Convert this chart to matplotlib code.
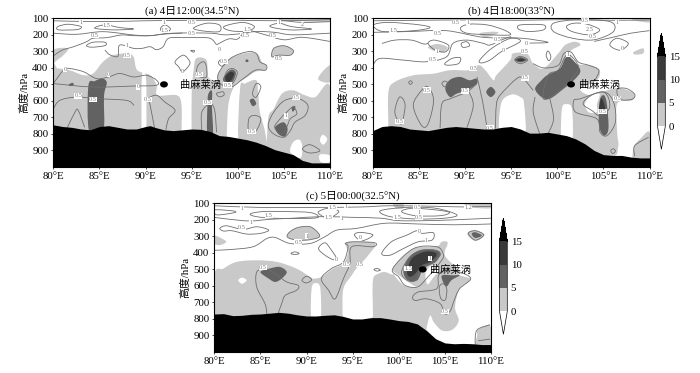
import matplotlib
matplotlib.use('Agg')
import matplotlib.pyplot as plt
from matplotlib.path import Path
from matplotlib.patches import PathPatch, Ellipse
from matplotlib.colors import ListedColormap, BoundaryNorm
from matplotlib.cm import ScalarMappable

plt.rcParams['font.family'] = ['Liberation Serif', 'Noto Sans CJK SC']

xticks = [80, 85, 90, 95, 100, 105, 110]
yticks = [100, 200, 300, 400, 500, 600, 700, 800, 900]
cbar_levels = [0, 5, 10, 15]

# panel a
a_terrain_lon = [80, 81, 82, 83, 84, 85, 86, 87, 88, 89, 90, 90.5, 91, 92, 93, 94, 95, 96, 97, 98, 99, 100, 101, 102, 103, 104, 105, 106, 107, 108, 109, 110]
a_terrain_p = [745, 755, 760, 770, 775, 755, 750, 760, 770, 770, 755, 750, 760, 775, 780, 775, 770, 772, 785, 810, 815, 825, 835, 850, 870, 895, 910, 925, 960, 975, 975, 975]
a_grey = [
    [(80, 292), (81.6, 282), (81.1, 323), (80.2, 363), (80, 380)],
    [(80, 415), (80.5, 404), (81.8, 415), (83.25, 444), (84.3, 435), (85.4, 363), (86.5, 323), (88, 313), (88.7, 333), (89.1, 414), (90.5, 444), (91.2, 505), (91.3, 566), (93.4, 566), (93.9, 627), (93.9, 790), (93.9, 900), (80, 900)],
    [(95, 900), (95, 790), (95, 560), (95.2, 420), (95.5, 343), (96.6, 353), (96.8, 455), (97.7, 480), (97.9, 435), (99.2, 343), (101.2, 307), (102.2, 319), (102.6, 363), (103.1, 384), (102.96, 414), (101.9, 424), (100.8, 465), (99.7, 505), (99, 617), (98.8, 820), (98.8, 900)],
    [(100.25, 900), (100.25, 526), (100.8, 495), (102, 475), (102.2, 546), (102.4, 668), (102.96, 790), (103, 900)],
    [(103.2, 960), (103.3, 708), (103.9, 648), (104.8, 556), (106, 536), (107.3, 566), (108.4, 577), (110, 516), (110, 985), (104, 985)],
    [(108.7, 465), (110, 385), (110, 485)],
    [(103.7, 333), (103.9, 282), (105, 266), (106, 293), (105.7, 323), (104.4, 323)],
    [(104.2, 100), (110, 100), (110, 122), (107, 118), (105, 110)],
]
a_white = [
    [(89.6, 455), (90.05, 455), (90.05, 800), (89.6, 800)],
    [(105.7, 910), (106, 850), (106.7, 835), (107, 880), (106.8, 945)],
    [(108.9, 925), (110, 930), (110, 970), (109, 970)],
    [(108.9, 840), (109.2, 805), (109.7, 830), (109.3, 865)],
]
a_mid = [
    [(83.9, 790), (83.8, 510), (84.5, 480), (85.3, 465), (85.8, 490), (85.5, 570), (85.4, 790)],
    [(96.7, 800), (96.7, 640), (96.8, 560), (97.2, 540), (97.2, 640), (97.3, 800)],
    [(98.4, 470), (98.9, 425), (99.4, 410), (99.8, 430), (99.5, 480), (98.9, 500)],
    [(104.05, 759), (104.95, 729), (105.4, 769), (105.1, 815), (104.4, 800)],
    [(101.3, 597), (101.7, 587), (102, 617), (101.6, 631)],
    [(81.7, 500), (82.1, 490), (82.2, 505), (81.8, 510)],
    [(100.85, 352), (101.1, 350), (101.15, 362), (100.9, 365)],
    [(105.85, 640), (106.2, 630), (106.2, 650), (105.95, 665)],
]
a_dark = [[(98.65, 455), (99.2, 425), (99.6, 435), (99.35, 470), (98.9, 490)]]
a_closed = [
    [(93.2, 363), (94.1, 323), (94.8, 363), (94.6, 394), (94, 424), (93.6, 394)],
    [(95.5, 435), (95.7, 384), (96.3, 363), (96.6, 394), (96.6, 455), (95.9, 455)],
    [(94.9, 295), (95.3, 295), (95.2, 305)],
    [(98.2, 350), (98.8, 360), (98.3, 390), (97.9, 370)],
    [(101.6, 556), (102, 495), (102.5, 515), (102, 577)],
    [(101.2, 708), (101.8, 688), (102.5, 708), (102, 780), (101.2, 790)],
    [(103.3, 749), (103.9, 668), (105.1, 597), (106.6, 587), (107.6, 627), (107.3, 688), (106.2, 729), (105.7, 780), (105, 820), (103.9, 800)],
    [(104, 759), (104.6, 708), (105.3, 668), (106, 637), (106.4, 678), (105.7, 708), (105.3, 759), (104.8, 800)],
    [(103.7, 333), (103.9, 282), (105, 266), (106, 293), (105.7, 323), (104.4, 323)],
    [(107, 891), (107.8, 865), (108.9, 901), (107.8, 915)],
    [(98.1, 495), (97.9, 435), (99.2, 343), (101, 303), (102, 313), (102.4, 363), (103.1, 384), (103, 414), (101.9, 414), (100.6, 465), (99.3, 515)],
    [(98.5, 470), (98.9, 415), (99.5, 405), (99.95, 430), (99.5, 490), (98.9, 505)],
    [(97.7, 555), (98.4, 545), (98.5, 565), (98, 575)],
    [(80.5, 150), (81.6, 136), (83, 150), (82.6, 168), (80.6, 170)],
    [(84.5, 160), (85.6, 140), (87.2, 156), (88.7, 165), (86.5, 170)],
    [(91.6, 165), (92.1, 140), (92.7, 165), (92.1, 190)],
    [(95.2, 160), (96.6, 130), (98, 140), (98, 180), (96.3, 177)],
    [(83.6, 265), (84.3, 245), (85.6, 245), (85.6, 265), (84.2, 275)],
    [(98.5, 150), (100.5, 125), (101.8, 150), (101, 178), (99.2, 175)],
    [(104.5, 130), (105.8, 150), (108, 165), (105.5, 170), (103.5, 150)],
]
a_lines = [
    [(80, 327), (81, 292), (82.2, 272), (83.6, 242), (84.3, 221), (85.8, 217), (87.4, 201), (88.7, 205), (90.5, 205), (92, 195), (94, 190)],
    [(85.6, 292), (86.1, 320), (87, 330), (87.2, 262), (88.7, 282), (89.6, 282), (90.5, 272), (91.2, 290), (91.9, 272), (92.5, 221), (94.1, 217), (95.5, 217), (97, 221), (97.7, 260)],
    [(80, 495), (84.3, 516), (88.7, 510), (91.2, 505), (91.2, 475), (90.1, 445), (88.7, 455), (87.2, 434), (86, 455), (84.7, 465), (83.3, 424), (81.8, 404), (81.1, 414), (80, 495)],
    [(80, 648), (80.7, 597), (82.5, 577), (85, 587), (87.95, 597), (88.75, 627)],
    [(81.45, 770), (82.35, 668), (82.7, 657), (83.4, 760)],
    [(91, 770), (90.5, 627), (90.3, 587), (91.2, 566), (92.1, 607), (93.2, 657), (92.5, 708), (92.2, 775)],
    [(96.1, 775), (96.1, 668), (97, 617), (97.5, 657), (97.7, 790)],
    [(80, 115), (85, 120), (90, 115), (95, 112), (100, 112), (105, 115), (110, 108)],
    [(80, 190), (82.5, 197), (85.4, 181), (88.7, 201), (90.5, 205), (93, 190), (97, 190), (98.5, 200), (100, 195), (102, 180), (104, 185), (106, 200), (110, 190)],
    [(97.7, 260), (99, 225), (100, 225), (101, 175), (103, 200), (105, 230), (107, 215), (110, 240)],
    [(104.5, 110), (107, 125), (110, 120)],
]
a_labels = [(82.7, 570, '0.5'), (84.3, 590, '0.5'), (90.2, 590, '0.5'), (96.7, 610, '0.5'), (88, 325, '0.5'), (98.5, 360, '0.5'), (95.8, 440, '0.5'), (98.9, 505, '0.5'), (101.5, 785, '0.5'), (106.3, 580, '0.5'), (104.4, 345, '0.5'), (84.5, 205, '0.5'), (85.8, 145, '1.5'), (83, 125, '1'), (92, 125, '1'), (95, 128, '0.5'), (92.1, 175, '1.5'), (95, 192, '0.5'), (101, 165, '1.5'), (100.8, 205, '-0.5'), (103.8, 205, '0.5'), (104.5, 125, '1'), (105.2, 690, '1'), (81.3, 410, '0'), (86, 440, '0'), (89.2, 515, '0'), (94, 420, '0'), (98, 290, '0'), (88, 265, '1'), (107, 135, '2')]
a_marker = (92, 500)
a_vortex = (93.7, 505)

# panel b
b_terrain_lon = [80, 81, 82, 83, 84, 85, 86, 87, 88, 89, 90, 91, 92, 93, 94, 95, 96, 97, 98, 99, 100, 101, 102, 103, 104, 105, 106, 107, 108, 109, 110]
b_terrain_p = [780, 755, 750, 755, 770, 775, 780, 770, 760, 755, 760, 765, 770, 770, 760, 755, 770, 795, 795, 790, 800, 810, 830, 860, 900, 925, 930, 930, 940, 945, 945]
b_grey = [
    [(81.7, 900), (81.7, 760), (81.7, 546), (82.4, 485), (84.4, 445), (86.6, 435), (88.4, 414), (90.4, 414), (91.5, 384), (92.2, 414), (93.1, 475), (93.4, 445), (94.9, 353), (95.2, 313), (96.7, 313), (97.4, 374), (98.5, 404), (100.1, 313), (100.85, 262), (101.9, 242), (102.5, 262), (101.4, 303), (102, 374), (103.6, 384), (104.6, 414), (104.3, 475), (102.5, 526), (103.6, 566), (105.4, 536), (106.8, 522), (108.3, 556), (108.1, 597), (106.5, 617), (106.5, 790), (106.6, 881), (105.7, 942), (100, 950), (81.7, 950)],
    [(108.3, 960), (108.3, 880), (109, 830), (110, 790), (110, 960)],
    [(108.3, 303), (109.3, 282), (109.3, 313), (108.4, 319)],
    [(86, 275), (87, 255), (88.1, 275), (87.7, 305), (86.8, 300)],
    [(91.6, 190), (93.1, 181), (93.6, 190), (92.2, 215)],
    [(108, 100), (110, 100), (110, 125), (108.5, 115)],
]
b_white = [
    [(93.9, 830), (93.9, 620), (95, 562), (96, 577), (96.4, 617), (96.4, 830)],
    [(100.5, 850), (100.5, 650), (101, 620), (101.6, 650), (101.6, 850)],
    [(103, 617), (103.7, 566), (104.6, 560), (104.3, 620), (104.3, 668), (103.4, 668)],
]
b_mid = [
    [(87.9, 536), (88, 495), (88.6, 465), (89.5, 455), (90.5, 475), (91.2, 465), (91.3, 495), (90.2, 536), (89.1, 556), (88.4, 577)],
    [(92.3, 546), (92.8, 515), (93.3, 546), (92.8, 577)],
    [(97.6, 526), (98.3, 475), (98.9, 445), (100.3, 404), (100.85, 343), (101.4, 337), (102.5, 414), (101.8, 475), (100.7, 526), (99.2, 587), (98.3, 577)],
    [(104.5, 688), (104.65, 587), (105.1, 567), (105.4, 627), (105.55, 769), (105.1, 810), (104.6, 769)],
    [(95.4, 352), (96, 335), (96.7, 352), (96, 367)],
]
b_dark = [[(95.6, 352), (96.1, 343), (96.5, 352), (96, 360)], [(104.5, 658), (104.8, 583), (105.2, 648), (104.9, 675)]]
b_closed = [
    [(82.4, 668), (82.9, 577), (83.5, 617), (83.3, 708), (83, 739)],
    [(84.4, 627), (85.3, 536), (86, 515), (86.6, 597), (86, 739), (85.3, 749)],
    [(87.5, 495), (87.8, 480), (88.2, 495), (87.8, 515)],
    [(83.9, 489), (84.1, 478), (84.3, 489), (84.1, 500)],
    [(86, 252), (86.7, 232), (88.2, 262), (87.9, 303), (86.8, 293)],
    [(89.6, 252), (90.2, 242), (90.5, 266), (89.8, 276)],
    [(87.8, 374), (88.6, 343), (89.5, 339), (89.3, 374), (88.2, 384)],
    [(91.6, 353), (92.9, 282), (94.9, 222), (96, 240), (94, 300), (92.7, 353), (91.8, 370)],
    [(95.4, 352), (96, 330), (96.8, 352), (96, 375)],
    [(99, 353), (98.8, 323), (99, 298), (99.3, 327), (99.2, 353)],
    [(99, 445), (100.1, 414), (100.85, 333), (101.4, 323), (102.3, 394), (101.6, 465), (100.1, 546), (98.5, 587)],
    [(101.8, 597), (102, 668), (104.3, 709), (104.65, 790), (105.4, 810), (106.3, 729), (106.1, 607), (105, 546), (102.5, 587)],
    [(102.8, 617), (103.7, 566), (105, 546), (105.6, 590), (105.6, 650), (104.6, 690), (103.8, 660)],
    [(106.5, 530), (107.5, 525), (108.4, 560), (108.1, 590), (106.8, 590)],
    [(105.7, 262), (106.45, 221), (107.7, 252), (106.8, 293)],
    [(105.8, 900), (106.1, 890), (106.3, 905), (106, 918)],
    [(80.1, 140), (81.8, 125), (85.1, 140), (86.2, 157), (84.4, 175), (81.1, 180)],
    [(89.5, 160), (90.4, 136), (92.4, 140), (94.2, 170), (94.9, 200), (92.7, 200), (90.2, 190)],
    [(96, 140), (98.5, 140), (98.5, 170), (96.9, 180), (95.8, 165)],
    [(101, 150), (101.8, 130), (103.2, 135), (104.6, 170), (103.5, 200), (101.6, 180)],
    [(99.6, 130), (102, 110), (105.7, 120), (106.1, 180), (104, 230), (101.6, 220), (99.6, 180)],
]
b_lines = [
    [(80, 384), (80.8, 343), (83.3, 353), (85.8, 363), (88, 333), (88.7, 252), (90.2, 232), (92, 252), (92.7, 262), (94, 230), (95, 210)],
    [(81, 252), (82.4, 232), (84.2, 232), (85.5, 255), (86, 252)],
    [(80, 115), (85, 112), (90, 110), (96, 112), (101, 108), (106, 112), (110, 110)],
    [(80, 185), (84, 180), (88, 175), (92, 215), (96, 220), (99, 245), (97, 250)],
    [(104, 240), (106, 215), (108, 190), (110, 175)],
    [(87.3, 765), (87.5, 617), (88.4, 587), (90.2, 546), (91.3, 495)],
    [(90.2, 765), (90.9, 627), (90.4, 540)],
    [(91.3, 455), (91.9, 600), (92.4, 768)],
    [(93.3, 768), (93.4, 627), (93.8, 566), (95.6, 465), (96.3, 465), (97.4, 536)],
    [(97.6, 576), (97.4, 668), (98.1, 800)],
    [(99, 800), (99.6, 709), (99.2, 587)],
    [(108.4, 935), (108.4, 871), (109.9, 820)],
    [(97.4, 374), (98.5, 400), (100.1, 385), (100.7, 315), (101.5, 305), (102.3, 365), (103.4, 384), (104.5, 414), (104.1, 475)],
]
b_labels = [(82.9, 725, '0.5'), (85.9, 535, '0.5'), (90, 540, '0.5'), (90.9, 405, '0.5'), (92.7, 765, '0.5'), (96.5, 460, '0.5'), (96.5, 300, '0.5'), (101.2, 320, '1'), (104.9, 665, '0.5'), (106.5, 585, '0.5'), (82.2, 175, '1.5'), (87, 300, '1'), (86.5, 350, '0.5'), (87, 190, '0.5'), (89, 125, '0.5'), (90.3, 125, '1'), (93.5, 230, '0.5'), (94.2, 295, '0'), (96.6, 255, '0'), (103.5, 170, '2.5'), (103.8, 210, '0.5'), (107, 280, '0'), (106.5, 125, '1'), (103, 115, '0.5')]
b_marker = (101.5, 500)
b_vortex = (102.4, 505)

# panel c
c_terrain_lon = [80, 81, 82, 83, 84, 85, 86, 87, 88, 89, 90, 91, 92, 93, 94, 95, 96, 97, 98, 99, 100, 101, 102, 103, 104, 105, 106, 107, 108, 109, 110]
c_terrain_p = [770, 768, 780, 778, 772, 770, 765, 760, 765, 775, 782, 782, 778, 775, 785, 800, 800, 792, 792, 800, 810, 815, 830, 870, 920, 945, 950, 948, 950, 955, 955]
c_grey = [
    [(80, 298), (80.6, 307), (81.3, 333), (80.6, 353), (80, 343)],
    [(80, 900), (80, 536), (81, 495), (82.4, 455), (84.6, 445), (86.8, 455), (88.9, 495), (90.4, 546), (90.7, 556), (91.6, 546), (92.9, 495), (94, 465), (94.5, 394), (94.2, 343), (95, 333), (97.4, 343), (96.7, 414), (95.4, 495), (94.9, 536), (94, 617), (93.9, 770), (93.9, 900)],
    [(97.2, 900), (97.2, 770), (97.2, 566), (97.8, 526), (98.5, 516), (99.4, 530), (99.5, 480), (101.6, 374), (104.1, 360), (104.6, 335), (105.1, 330), (105.3, 345), (105, 415), (106.3, 495), (106.6, 535), (107.8, 560), (106.6, 617), (106.1, 730), (106.5, 810), (105.8, 865), (104.7, 870), (103.8, 820), (103.4, 780), (103, 860), (103, 900)],
    [(108.4, 960), (108.5, 900), (108.6, 865), (109.9, 840), (110, 960)],
    [(107.4, 285), (108.2, 262), (109.3, 290), (108.3, 328)],
    [(87.9, 302), (88.2, 272), (89.1, 246), (90.4, 242), (91.3, 282), (91.3, 307), (90, 323), (88.6, 319)],
    [(99.4, 100), (100.4, 100), (100.5, 130), (99.7, 130)],
    [(107.2, 100), (110, 100), (110, 130), (108, 125)],
]
c_white = [
    [(90.55, 810), (90.55, 617), (91, 583), (91.5, 617), (91.5, 810)],
    [(82.6, 566), (83, 550), (83.5, 566), (83, 587)],
    [(102.9, 520), (103.6, 475), (104.4, 495), (103.6, 560), (103.1, 590)],
    [(99.3, 510), (100.5, 595), (102.2, 610), (101.5, 595)],
]
c_mid = [
    [(85, 516), (86, 495), (87.1, 485), (87.85, 516), (87.3, 556), (86.6, 576), (85.9, 556)],
    [(100.5, 516), (101, 435), (102.3, 384), (104, 384), (104.5, 404), (104, 455), (102.7, 495), (102, 566), (101, 566)],
    [(104.7, 536), (105.9, 536), (106.6, 536), (105.7, 566), (105.2, 603), (104.8, 576)],
    [(107.9, 285), (108.3, 275), (109, 295), (108.3, 310)],
]
c_dark = [[(100.9, 516), (101.4, 435), (102.7, 395), (103.8, 395), (104.1, 415), (103.4, 455), (102.5, 475), (101.8, 525), (101.2, 545)]]
c_closed = [
    [(87.9, 302), (88.2, 272), (89.1, 246), (90.4, 242), (91.3, 282), (91.3, 307), (90, 323), (88.6, 319)],
    [(88.3, 404), (88.75, 394), (89.2, 404), (88.75, 410)],
    [(89.5, 566), (90, 542), (90.55, 562), (90, 582)],
    [(91.3, 374), (92, 339), (92.7, 384), (93.2, 428), (92.9, 441), (92, 414)],
    [(91.6, 556), (92.7, 495), (94, 455), (94.5, 363), (94.2, 343), (95.1, 333), (97.4, 339), (97.2, 363), (94.9, 363), (94.7, 465), (94, 556), (93.1, 678), (92.4, 627)],
    [(95.2, 292), (95.8, 276), (97.2, 292), (96, 327)],
    [(97.3, 500), (97.7, 495), (98, 505), (97.6, 510)],
    [(98.15, 404), (99.2, 333), (100.9, 292), (101.95, 266), (102.5, 282), (103.75, 278), (103.6, 323), (102.1, 333), (100.5, 374), (99.05, 414)],
    [(99.35, 495), (101.6, 374), (104.1, 363), (104.8, 404), (104.65, 445), (103, 556), (102, 607), (100.7, 597), (100, 546)],
    [(100.3, 516), (101.2, 424), (102.5, 384), (104, 384), (104.5, 414), (103.4, 465), (102.5, 495), (101.8, 566), (100.9, 566)],
    [(101.5, 668), (102.1, 637), (104.1, 617), (104.3, 540), (105, 505), (106.6, 516), (107.8, 556), (106.6, 617), (106, 688), (105.6, 750), (105, 770), (104.5, 708), (103, 678), (101.8, 688)],
    [(104.4, 607), (104.8, 587), (105.2, 617), (105.1, 678), (104.8, 688), (104.5, 668)],
    [(107.55, 282), (108.3, 266), (109.2, 292), (108.3, 323)],
    [(80.6, 252), (81.3, 236), (83.1, 258), (84.6, 242), (85.9, 262), (85, 282), (83.5, 286), (81.9, 266), (81, 268)],
    [(80, 140), (82, 146), (82.2, 156), (80.3, 170)],
    [(83.9, 164), (85.3, 150), (87.7, 150), (90.4, 156), (91.3, 181), (90.4, 191), (86.8, 191), (84.6, 181)],
    [(91.3, 150), (92.4, 130), (93.5, 150), (92.4, 190), (91.5, 170)],
    [(100.3, 150), (101.5, 130), (104, 140), (105.5, 155), (104.5, 175), (101.8, 175)],
    [(98, 145), (100.8, 125), (104, 130), (106.3, 170), (105, 190), (102, 195), (99, 180)],
]
c_lines = [
    [(85.7, 770), (85.5, 708), (84.6, 607), (84.6, 516), (85.5, 495), (86.6, 526), (87.85, 576), (89.1, 597), (88.9, 627), (87.7, 657), (87.3, 708), (86.9, 770)],
    [(80, 384), (81.7, 380), (84.2, 363), (85.7, 313), (86.6, 307), (88.2, 343), (90.4, 343), (92, 302), (93.3, 262), (95.4, 252), (98.5, 221), (102, 225), (106, 230), (110, 225)],
    [(80, 115), (85, 125), (91, 125), (96, 122), (99, 115), (104, 118), (107, 122), (110, 118)],
    [(80, 185), (81.7, 197), (83.9, 207), (86, 197), (88.6, 190), (91.5, 181), (95, 185), (98, 190), (100, 205), (103, 205), (106, 200), (110, 190)],
    [(108.3, 960), (108.3, 901), (108.6, 861), (109.9, 835)],
    [(108.6, 932), (109.9, 922)],
]
c_labels = [(85.3, 490, '0.5'), (83, 245, '0.5'), (84, 215, '1'), (85.9, 172, '1.5'), (83, 130, '1'), (89.1, 335, '0.5'), (90, 298, '1'), (92.8, 125, '1.5'), (94.3, 122, '1'), (92.4, 185, '1.5'), (93.8, 195, '1'), (93.2, 440, '0'), (94.3, 470, '0.5'), (95.8, 470, '0.5'), (95.8, 310, '0'), (99.8, 185, '1.5'), (102.2, 185, '0.5'), (102, 125, '0.5'), (102.2, 155, '1'), (107.5, 125, '1.2'), (101, 495, '1.5'), (102.2, 268, '0'), (103, 325, '1'), (103.4, 435, '1'), (105, 755, '0.5')]
c_marker = (102.6, 500)
c_vortex = (103.4, 505)


def smooth_path(points, closed):
    # Catmull-Rom turned into bezier pieces so the curve goes through the read points
    n = len(points)
    verts = [points[0]]
    codes = [Path.MOVETO]
    last = n if closed else n - 1
    for i in range(last):
        if closed:
            p0, p1, p2, p3 = points[i - 1], points[i], points[(i + 1) % n], points[(i + 2) % n]
        else:
            p0, p1, p2, p3 = points[max(i - 1, 0)], points[i], points[i + 1], points[min(i + 2, n - 1)]
        c1 = (p1[0] + (p2[0] - p0[0]) / 6, p1[1] + (p2[1] - p0[1]) / 6)
        c2 = (p2[0] - (p3[0] - p1[0]) / 6, p2[1] - (p3[1] - p1[1]) / 6)
        verts += [c1, c2, p2]
        codes += [Path.CURVE4, Path.CURVE4, Path.CURVE4]
    return Path(verts, codes)


def draw_panel(ax, title, lon, terrain, grey, white, mid, dark, closed, lines, labels, marker, vortex):
    for shape in grey:
        ax.add_patch(PathPatch(smooth_path(shape, True), fc='#c9c9c9', ec='none', zorder=1))
    for shape in white:
        ax.add_patch(PathPatch(smooth_path(shape, True), fc='white', ec='none', zorder=1.1))
    for shape in mid:
        ax.add_patch(PathPatch(smooth_path(shape, True), fc='#626262', ec='none', zorder=1.2))
    for shape in dark:
        ax.add_patch(PathPatch(smooth_path(shape, True), fc='#3a3a3a', ec='none', zorder=1.3))
    for shape in closed:
        ax.add_patch(PathPatch(smooth_path(shape, True), fc='none', ec='#6e6e6e', lw=0.6, zorder=2))
    for shape in lines:
        ax.add_patch(PathPatch(smooth_path(shape, False), fc='none', ec='#6e6e6e', lw=0.6, zorder=2))
    for x, y, s in labels:
        ax.text(x, y, s, fontsize=4.5, color='#777777', ha='center', va='center', zorder=3,
                bbox=dict(fc='white', ec='none', pad=0.2))
    ax.fill_between(lon, terrain, 1000, color='black', lw=0, zorder=4)
    ax.add_patch(Ellipse(marker, 0.85, 38, fc='black', ec='none', zorder=5))
    ax.text(vortex[0], vortex[1], '曲麻莱涡', fontsize=7.4, ha='left', va='center', zorder=5)
    ax.set_xlim(80, 110)
    ax.set_ylim(1000, 100)
    ax.set_xticks(xticks)
    ax.set_xticklabels([f'{v}°E' for v in xticks], fontsize=7.8)
    ax.set_yticks(yticks)
    ax.set_yticklabels([str(v) for v in yticks], fontsize=7.8)
    ax.tick_params(length=1.5, width=0.5, pad=2)
    for spine in ax.spines.values():
        spine.set_linewidth(0.8)
    ax.set_ylabel('高度/hPa', fontsize=7.8, labelpad=2)
    ax.set_title(title, fontsize=7.8, pad=3.5)


W, H = 700, 373
fig = plt.figure(figsize=(7, 3.73), dpi=100)


def axes_px(x0, y0, x1, y1):
    return fig.add_axes([x0 / W, 1 - y1 / H, (x1 - x0) / W, (y1 - y0) / H])


ax_a = axes_px(53.3, 18.3, 330, 167)
ax_b = axes_px(372.7, 18.3, 649.5, 167)
ax_c = axes_px(214.3, 203.3, 491, 352)
draw_panel(ax_a, '(a) 4日12:00(34.5°N)', a_terrain_lon, a_terrain_p, a_grey, a_white, a_mid, a_dark, a_closed, a_lines, a_labels, a_marker, a_vortex)
draw_panel(ax_b, '(b) 4日18:00(33°N)', b_terrain_lon, b_terrain_p, b_grey, b_white, b_mid, b_dark, b_closed, b_lines, b_labels, b_marker, b_vortex)
draw_panel(ax_c, '(c) 5日00:00(32.5°N)', c_terrain_lon, c_terrain_p, c_grey, c_white, c_mid, c_dark, c_closed, c_lines, c_labels, c_marker, c_vortex)

cmap = ListedColormap(['#c9c9c9', '#626262', '#3a3a3a'])
cmap.set_under('white')
cmap.set_over('black')
norm = BoundaryNorm(cbar_levels, 3)
for x0, y0 in [(657.5, 33.3), (499.5, 218.3)]:
    # the axes holds the two end tips as well, the colored part is the inner 70 px
    cax = axes_px(x0, y0, x0 + 7.8, y0 + 116)
    cb = fig.colorbar(ScalarMappable(norm=norm, cmap=cmap), cax=cax, extend='both', extendfrac=0.33, ticks=cbar_levels)
    cb.ax.tick_params(length=0, labelsize=7.8, pad=2.5)
    cb.outline.set_linewidth(0.5)

fig.savefig('out.png', dpi=100)
